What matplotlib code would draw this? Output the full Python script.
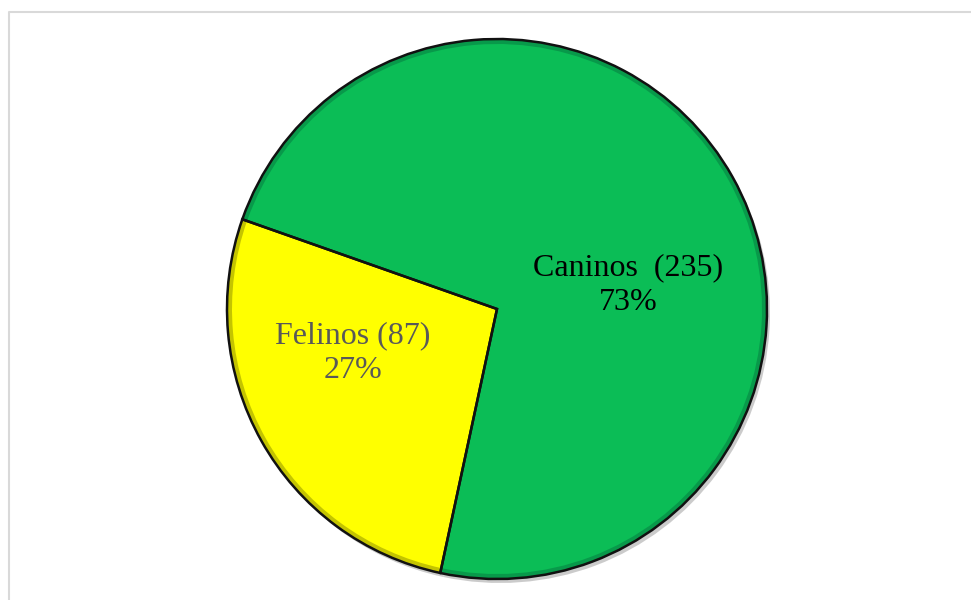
import matplotlib
matplotlib.use("Agg")
import matplotlib.pyplot as plt
from matplotlib.lines import Line2D

categories = ["Felinos", "Caninos"]
values = [87, 235]
colors = ["#FFFF00", "#0BBD56"]
label_colors = ["#595959", "#000000"]
label_texts = ["Felinos (87)", "Caninos  (235)"]

W, H = 971, 600
fig = plt.figure(figsize=(W / 100, H / 100), dpi=100)
ax = fig.add_axes([0, 0, 1, 1])
ax.set_xlim(0, W)
ax.set_ylim(0, H)
ax.set_aspect("equal")
ax.axis("off")

cx, cy, r = 497, H - 309, 270
start = 160.6

# shadow
ax.pie(values, startangle=start, counterclock=True, radius=r, center=(cx + 3, cy - 4),
       colors=["#999999"] * 2, wedgeprops=dict(linewidth=0, alpha=0.5), frame=True)
# darker bevel ring
dark = ["#C4C400", "#08994A"]
ax.pie(values, startangle=start, counterclock=True, radius=r, center=(cx, cy),
       colors=dark, wedgeprops=dict(linewidth=0), frame=True)
ax.pie(values, startangle=start, counterclock=True, radius=r - 5, center=(cx, cy),
       colors=colors, wedgeprops=dict(linewidth=0), frame=True)
# outlines
ax.pie(values, startangle=start, counterclock=True, radius=r, center=(cx, cy),
       colors=["none", "none"],
       wedgeprops=dict(linewidth=1.8, edgecolor="#111111"), frame=True)
ax.set_xlim(0, W)
ax.set_ylim(0, H)
ax.axis("off")

total = sum(values)
pos = [(353, H - 353), (628, H - 285)]
for i in range(len(values)):
    pct = round(values[i] / total * 100)
    ax.text(pos[i][0], pos[i][1], f"{label_texts[i]}\n{pct}%", ha="center", va="center",
            fontsize=23, family=["Liberation Serif"], color=label_colors[i],
            linespacing=1.25)

# chart border
fig.add_artist(Line2D([8.5 / W, 8.5 / W, 1.0], [0.0, 1 - 11.5 / H, 1 - 11.5 / H],
                      transform=fig.transFigure, color="#D9D9D9", linewidth=1.5))

fig.savefig("out.png", dpi=100)
